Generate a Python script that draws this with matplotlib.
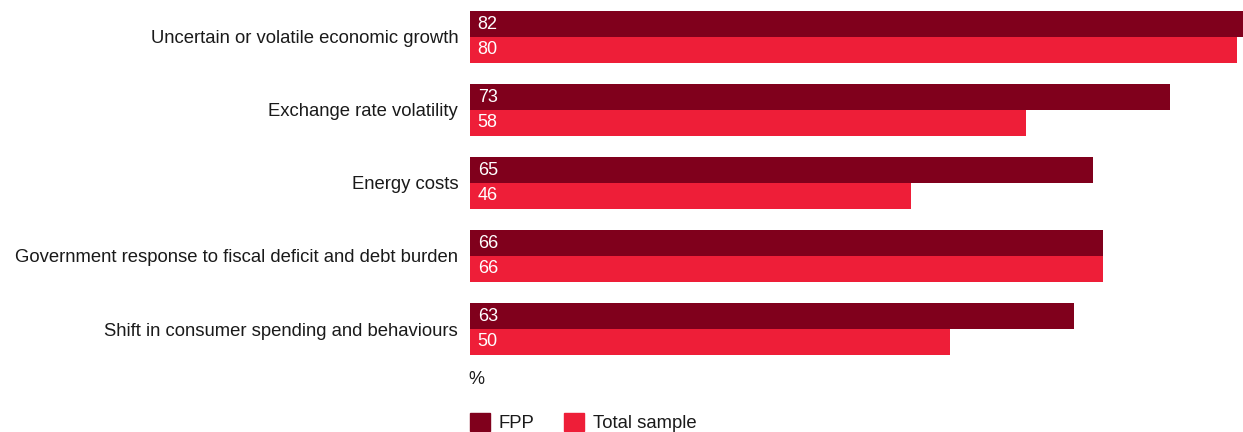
import numpy as np
import matplotlib.pyplot as plt
from matplotlib.patches import Patch

plt.rcParams['font.family'] = ['Liberation Sans', 'DejaVu Sans']

categories = ['Uncertain or volatile economic growth',
              'Exchange rate volatility',
              'Energy costs',
              'Government response to fiscal deficit and debt burden',
              'Shift in consumer spending and behaviours']
fpp = [82, 73, 65, 66, 63]
total = [80, 58, 46, 66, 50]

col_fpp = '#80001C'
col_total = '#EE1E38'

W, H = 1243, 432
fig = plt.figure(figsize=(W / 100, H / 100), dpi=100)

# axes placed in pixels: bars start at x=470, groups 73px apart
left, right = 470, W
top, bottom = 0.5, 365.5
ax = fig.add_axes([left / W, 1 - bottom / H, (right - left) / W, (bottom - top) / H])

y = np.arange(len(categories))
h = 0.35
ax.barh(y - h / 2, fpp, height=h, color=col_fpp)
ax.barh(y + h / 2, total, height=h, color=col_total)

for i in range(len(categories)):
    ax.annotate(str(fpp[i]), xy=(0, y[i] - h / 2), xytext=(5.5, 0), textcoords='offset points',
                va='center', ha='left', color='white', fontsize=13)
    ax.annotate(str(total[i]), xy=(0, y[i] + h / 2), xytext=(5.5, 0), textcoords='offset points',
                va='center', ha='left', color='white', fontsize=13)

ax.set_xlim(0, 80.6)
ax.set_ylim(len(categories) - 0.5, -0.5)
ax.set_yticks(y)
ax.set_yticklabels(categories, fontsize=13.3, color='#1a1a1a')
ax.tick_params(axis='y', length=0, pad=8.5)
ax.set_xticks([])
for s in ax.spines.values():
    s.set_visible(False)

fig.text(468 / W, 1 - 380 / H, '%', fontsize=13, va='center', ha='left', color='#1a1a1a')

handles = [Patch(color=col_fpp, label='FPP'), Patch(color=col_total, label='Total sample')]
fig.legend(handles=handles, loc='upper left', bbox_to_anchor=(470 / W, 1 - 413 / H),
           ncol=2, frameon=False, fontsize=13.3, borderpad=0, borderaxespad=0,
           handlelength=1.1, handleheight=1.1, handletextpad=0.45, columnspacing=1.6,
           labelcolor='#1a1a1a')

fig.savefig('out.png', dpi=100)
